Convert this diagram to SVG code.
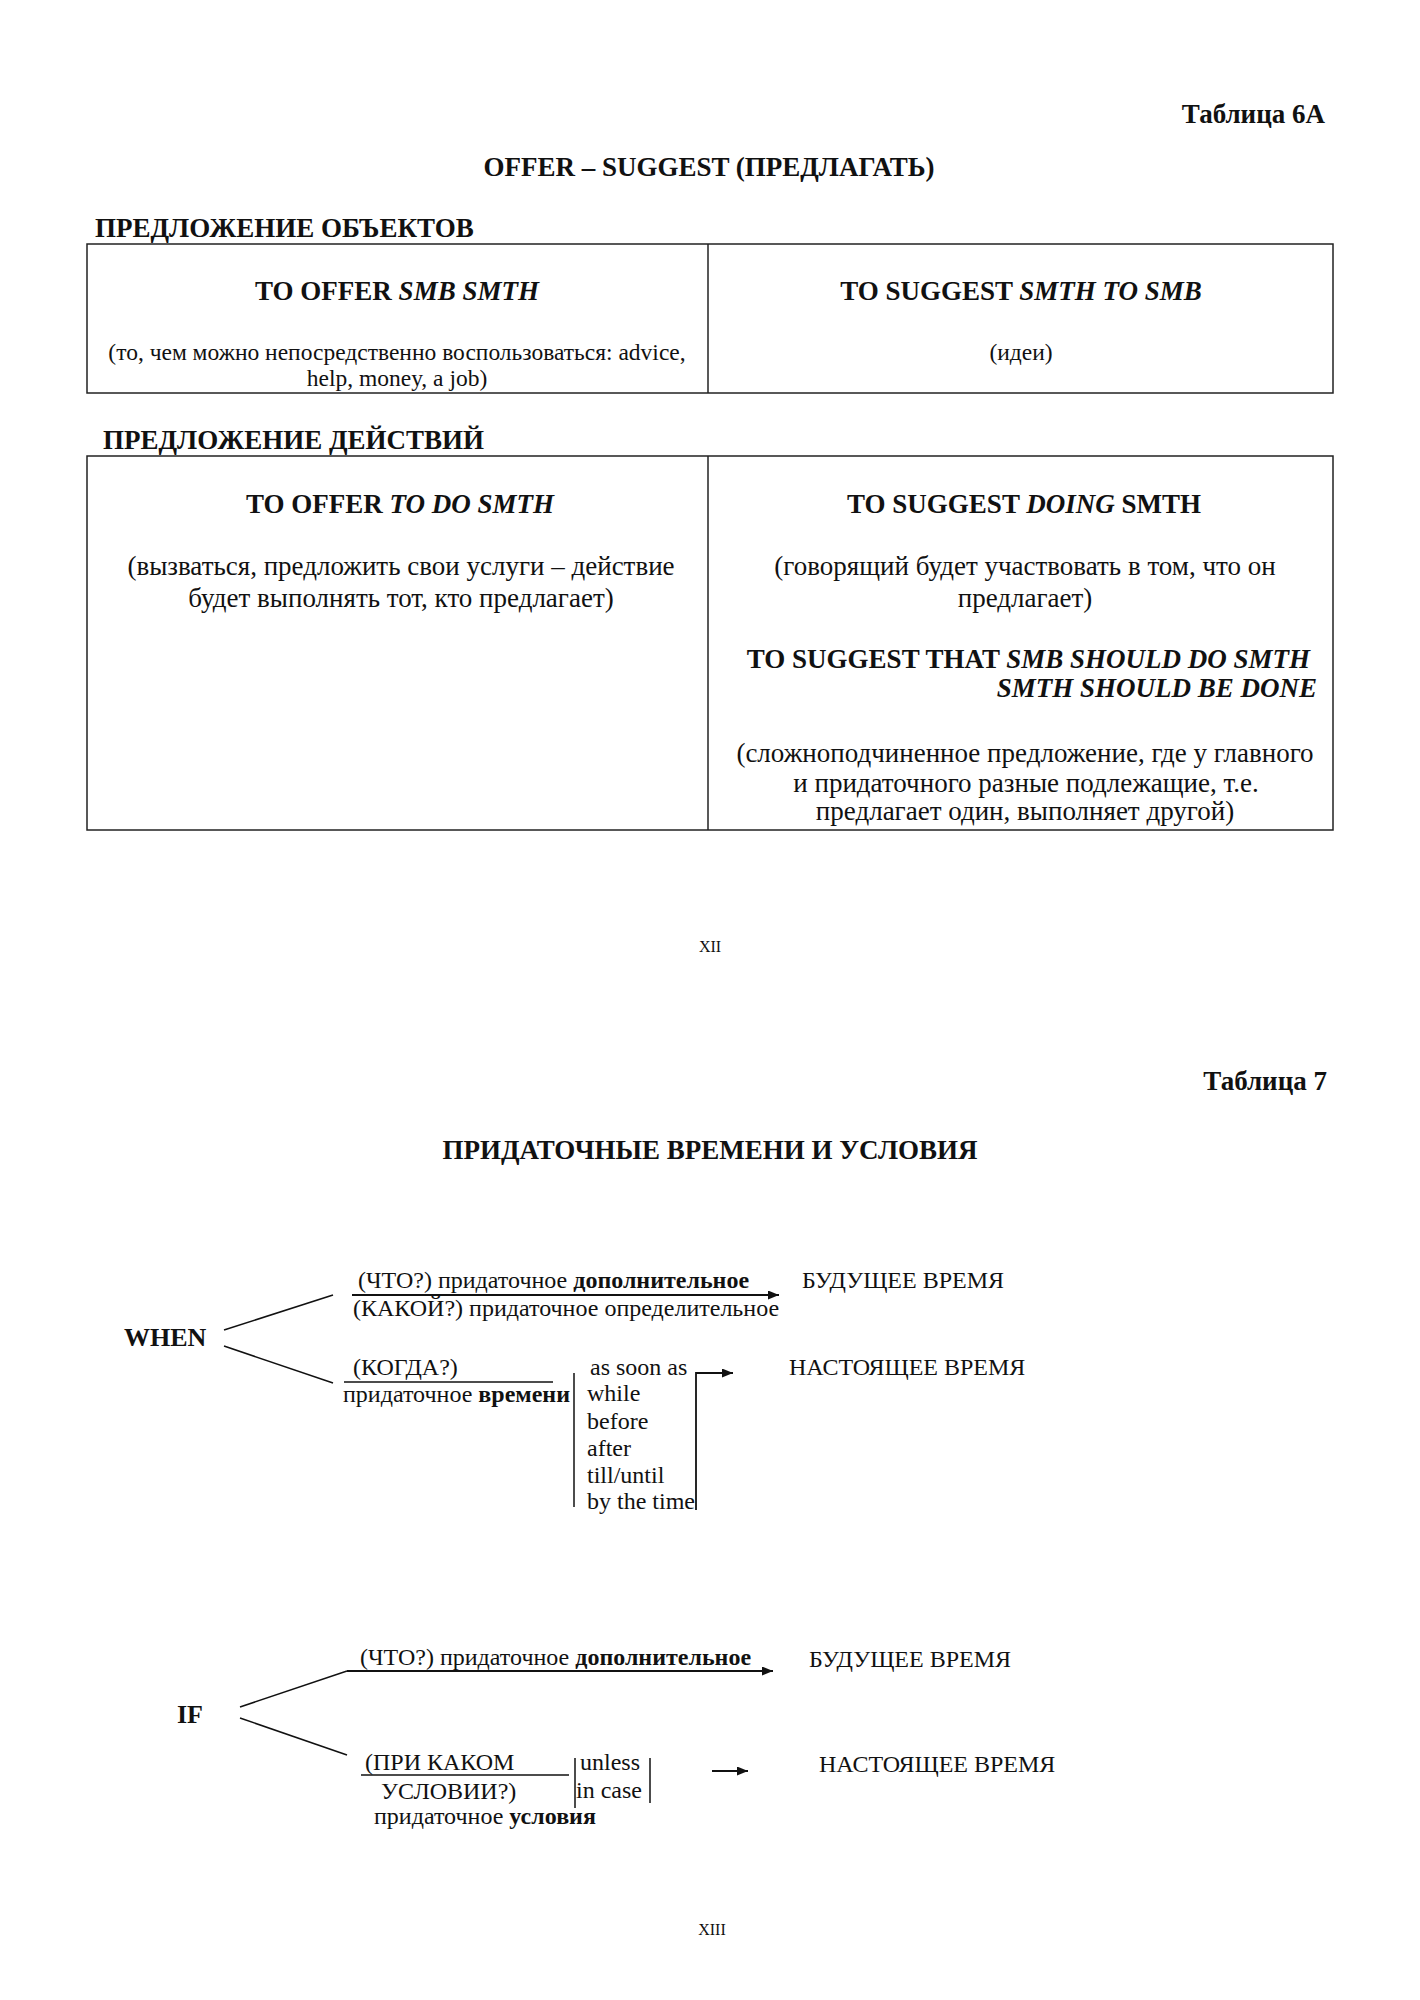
<svg xmlns="http://www.w3.org/2000/svg" width="1420" height="2000" viewBox="0 0 1420 2000">
<style>
text{font-family:"Liberation Serif","Times New Roman",serif;fill:#111;}
.b{font-weight:bold;}
.i{font-style:italic;}
.h{font-size:27px;font-weight:bold;}
.cap{font-size:27px;font-weight:bold;}
.t1{font-size:23.5px;}
.s{font-size:24px;}
.m{font-size:27px;}
.c{text-anchor:middle;}
.r{text-anchor:end;}
.box{fill:none;stroke:#222;stroke-width:1.5;}
.ln{fill:none;stroke:#111;stroke-width:1.5;}
.ar{fill:none;stroke:#111;stroke-width:1.8;marker-end:url(#ah);}
</style>
<defs>
<marker id="ah" markerWidth="11" markerHeight="9" refX="11" refY="4.5" orient="auto" markerUnits="userSpaceOnUse">
<path d="M0,0 L11,4.5 L0,9 Z" fill="#111"/>
</marker>
</defs>
<rect width="1420" height="2000" fill="#fff"/>

<g id="page12">
<text class="h r" x="1325" y="123">Таблица 6А</text>
<text class="h c" x="709" y="176">OFFER – SUGGEST (ПРЕДЛАГАТЬ)</text>
<text class="h" x="95" y="237">ПРЕДЛОЖЕНИЕ ОБЪЕКТОВ</text>
<g id="table1">
<rect class="box" x="87" y="244" width="1246" height="149"/>
<line class="box" x1="708" y1="244" x2="708" y2="393"/>
<text class="cap c" x="397" y="300">TO OFFER <tspan class="i">SMB SMTH</tspan></text>
<text class="cap c" x="1021" y="300">TO SUGGEST <tspan class="i">SMTH TO SMB</tspan></text>
<text class="t1 c" x="397" y="360">(то, чем можно непосредственно воспользоваться: advice,</text>
<text class="t1 c" x="397" y="386">help, money, a job)</text>
<text class="t1 c" x="1021" y="360">(идеи)</text>
</g>
<text class="h" x="103" y="449">ПРЕДЛОЖЕНИЕ ДЕЙСТВИЙ</text>
<g id="table2">
<rect class="box" x="87" y="456" width="1246" height="374"/>
<line class="box" x1="708" y1="456" x2="708" y2="830"/>
<text class="cap c" x="400" y="513">TO OFFER <tspan class="i">TO DO SMTH</tspan></text>
<text class="m c" x="401" y="575">(вызваться, предложить свои услуги – действие</text>
<text class="m c" x="401" y="607">будет выполнять тот, кто предлагает)</text>
<text class="cap c" x="1024" y="513">TO SUGGEST <tspan class="i">DOING</tspan> SMTH</text>
<text class="m c" x="1025" y="575">(говорящий будет участвовать в том, что он</text>
<text class="m c" x="1025" y="607">предлагает)</text>
<text class="cap r" x="1310" y="668">TO SUGGEST THAT <tspan class="i">SMB SHOULD DO SMTH</tspan></text>
<text class="cap r i" x="1317" y="697">SMTH SHOULD BE DONE</text>
<text class="m c" x="1025" y="762">(сложноподчиненное предложение, где у главного</text>
<text class="m c" x="1026" y="792">и придаточного разные подлежащие, т.е.</text>
<text class="m c" x="1025" y="820">предлагает один, выполняет другой)</text>
</g>
<text class="c" x="710" y="952" style="font-size:16px">XII</text>
</g>

<g id="page13">
<text class="h r" x="1327" y="1090">Таблица 7</text>
<text class="h c" x="710" y="1159">ПРИДАТОЧНЫЕ ВРЕМЕНИ И УСЛОВИЯ</text>

<g id="when">
<text class="h" x="124" y="1346" style="font-size:26px">WHEN</text>
</g>
<g id="when-what">
<text class="s" x="358" y="1288">(ЧТО?) придаточное <tspan class="b">дополнительное</tspan></text>
<text class="s" x="353" y="1316">(КАКОЙ?) придаточное определительное</text>
</g>
<g id="future1"><text class="s" x="802" y="1288">БУДУЩЕЕ ВРЕМЯ</text></g>
<g id="when-time">
<text class="s" x="353" y="1375">(КОГДА?)</text>
<text class="s" x="343" y="1402">придаточное <tspan class="b">времени</tspan></text>
</g>
<g id="when-conj">
<text class="s" x="590" y="1375">as soon as</text>
<text class="s" x="587" y="1401">while</text>
<text class="s" x="587" y="1429">before</text>
<text class="s" x="587" y="1456">after</text>
<text class="s" x="587" y="1483">till/until</text>
<text class="s" x="587" y="1509">by the time</text>
</g>
<g id="present1"><text class="s" x="789" y="1375">НАСТОЯЩЕЕ ВРЕМЯ</text></g>

<g id="if">
<text class="h" x="177" y="1723" style="font-size:26px">IF</text>
</g>
<g id="if-what">
<text class="s" x="360" y="1665">(ЧТО?)  придаточное <tspan class="b">дополнительное</tspan></text>
</g>
<g id="future2"><text class="s" x="809" y="1667">БУДУЩЕЕ ВРЕМЯ</text></g>
<g id="if-cond">
<text class="s" x="365" y="1770">(ПРИ КАКОМ</text>
<text class="s" x="381" y="1799">УСЛОВИИ?)</text>
<text class="s" x="374" y="1824">придаточное <tspan class="b">условия</tspan></text>
</g>
<g id="if-conj">
<text class="s" x="580" y="1770">unless</text>
<text class="s" x="576" y="1798">in case</text>
</g>
<g id="present2"><text class="s" x="819" y="1772">НАСТОЯЩЕЕ ВРЕМЯ</text></g>

<text class="c" x="712" y="1935" style="font-size:16px">XIII</text>
</g>

<g id="connectors">
<line class="ln" x1="224" y1="1330" x2="333" y2="1295"/>
<line class="ln" x1="224" y1="1346" x2="333" y2="1383"/>
<line class="ar" x1="352" y1="1295" x2="779" y2="1295"/>
<line class="ln" x1="344" y1="1382" x2="553" y2="1382"/>
<line class="ln" x1="574" y1="1373" x2="574" y2="1507"/>
<polyline class="ar" points="696,1510 696,1373 733,1373"/>
<line class="ln" x1="240" y1="1707" x2="347" y2="1671"/>
<line class="ar" x1="347" y1="1671" x2="773" y2="1671"/>
<line class="ln" x1="240" y1="1718" x2="347" y2="1755"/>
<line class="ln" x1="361" y1="1775" x2="569" y2="1775"/>
<line class="ln" x1="575" y1="1758" x2="575" y2="1808"/>
<line class="ln" x1="650" y1="1758" x2="650" y2="1803"/>
<line class="ar" x1="712" y1="1771" x2="748" y2="1771"/>
</g>
</svg>
